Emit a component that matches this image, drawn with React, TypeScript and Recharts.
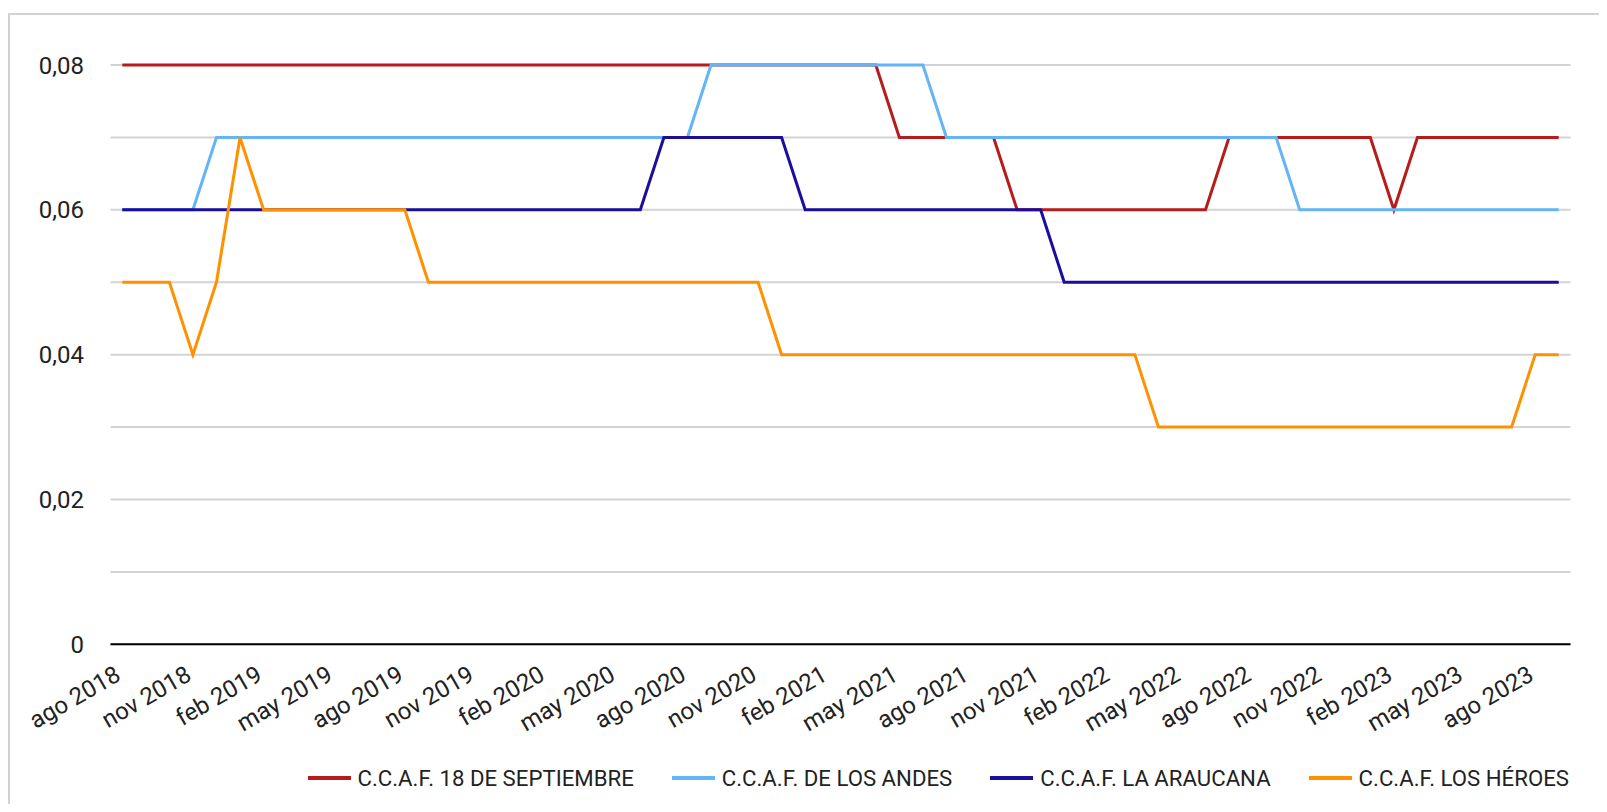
import { CartesianGrid, Line, LineChart, XAxis, YAxis } from 'recharts';

const months = [
  'ago 2018', 'sep 2018', 'oct 2018', 'nov 2018', 'dic 2018', 'ene 2019', 'feb 2019', 'mar 2019', 'abr 2019', 'may 2019', 'jun 2019', 'jul 2019',
  'ago 2019', 'sep 2019', 'oct 2019', 'nov 2019', 'dic 2019', 'ene 2020', 'feb 2020', 'mar 2020', 'abr 2020', 'may 2020', 'jun 2020', 'jul 2020',
  'ago 2020', 'sep 2020', 'oct 2020', 'nov 2020', 'dic 2020', 'ene 2021', 'feb 2021', 'mar 2021', 'abr 2021', 'may 2021', 'jun 2021', 'jul 2021',
  'ago 2021', 'sep 2021', 'oct 2021', 'nov 2021', 'dic 2021', 'ene 2022', 'feb 2022', 'mar 2022', 'abr 2022', 'may 2022', 'jun 2022', 'jul 2022',
  'ago 2022', 'sep 2022', 'oct 2022', 'nov 2022', 'dic 2022', 'ene 2023', 'feb 2023', 'mar 2023', 'abr 2023', 'may 2023', 'jun 2023', 'jul 2023',
  'ago 2023', 'sep 2023',
];

const septiembre = [
  0.08, 0.08, 0.08, 0.08, 0.08, 0.08, 0.08, 0.08, 0.08, 0.08, 0.08, 0.08,
  0.08, 0.08, 0.08, 0.08, 0.08, 0.08, 0.08, 0.08, 0.08, 0.08, 0.08, 0.08,
  0.08, 0.08, 0.08, 0.08, 0.08, 0.08, 0.08, 0.08, 0.08, 0.07, 0.07, 0.07,
  0.07, 0.07, 0.06, 0.06, 0.06, 0.06, 0.06, 0.06, 0.06, 0.06, 0.06, 0.07,
  0.07, 0.07, 0.07, 0.07, 0.07, 0.07, 0.06, 0.07, 0.07, 0.07, 0.07, 0.07,
  0.07, 0.07,
];

const andes = [
  0.06, 0.06, 0.06, 0.06, 0.07, 0.07, 0.07, 0.07, 0.07, 0.07, 0.07, 0.07,
  0.07, 0.07, 0.07, 0.07, 0.07, 0.07, 0.07, 0.07, 0.07, 0.07, 0.07, 0.07,
  0.07, 0.08, 0.08, 0.08, 0.08, 0.08, 0.08, 0.08, 0.08, 0.08, 0.08, 0.07,
  0.07, 0.07, 0.07, 0.07, 0.07, 0.07, 0.07, 0.07, 0.07, 0.07, 0.07, 0.07,
  0.07, 0.07, 0.06, 0.06, 0.06, 0.06, 0.06, 0.06, 0.06, 0.06, 0.06, 0.06,
  0.06, 0.06,
];

const araucana = [
  0.06, 0.06, 0.06, 0.06, 0.06, 0.06, 0.06, 0.06, 0.06, 0.06, 0.06, 0.06,
  0.06, 0.06, 0.06, 0.06, 0.06, 0.06, 0.06, 0.06, 0.06, 0.06, 0.06, 0.07,
  0.07, 0.07, 0.07, 0.07, 0.07, 0.06, 0.06, 0.06, 0.06, 0.06, 0.06, 0.06,
  0.06, 0.06, 0.06, 0.06, 0.05, 0.05, 0.05, 0.05, 0.05, 0.05, 0.05, 0.05,
  0.05, 0.05, 0.05, 0.05, 0.05, 0.05, 0.05, 0.05, 0.05, 0.05, 0.05, 0.05,
  0.05, 0.05,
];

const heroes = [
  0.05, 0.05, 0.05, 0.04, 0.05, 0.07, 0.06, 0.06, 0.06, 0.06, 0.06, 0.06,
  0.06, 0.05, 0.05, 0.05, 0.05, 0.05, 0.05, 0.05, 0.05, 0.05, 0.05, 0.05,
  0.05, 0.05, 0.05, 0.05, 0.04, 0.04, 0.04, 0.04, 0.04, 0.04, 0.04, 0.04,
  0.04, 0.04, 0.04, 0.04, 0.04, 0.04, 0.04, 0.04, 0.03, 0.03, 0.03, 0.03,
  0.03, 0.03, 0.03, 0.03, 0.03, 0.03, 0.03, 0.03, 0.03, 0.03, 0.03, 0.03,
  0.04, 0.04,
];

const yTicks = [0, 0.01, 0.02, 0.03, 0.04, 0.05, 0.06, 0.07, 0.08];

const series = [
  { key: 'septiembre', name: 'C.C.A.F. 18 DE SEPTIEMBRE', color: '#b71c1c' },
  { key: 'andes', name: 'C.C.A.F. DE LOS ANDES', color: '#64b5f6' },
  { key: 'araucana', name: 'C.C.A.F. LA ARAUCANA', color: '#1a0f9a' },
  { key: 'heroes', name: 'C.C.A.F. LOS HÉROES', color: '#ff9100' },
];

const data = months.map((month, i) => ({
  month,
  septiembre: septiembre[i],
  andes: andes[i],
  araucana: araucana[i],
  heroes: heroes[i],
}));

const FONT = 'Roboto, sans-serif';

// SVG origin sits at (10, 15) on the page
const CHART_W = 1597;
const CHART_H = 789;
const PLOT_LEFT = 100.5;
const PLOT_RIGHT = 1560.5;
const PLOT_TOP = 50;
const PLOT_BOTTOM = 629.3;
const X_AXIS_H = 60;
const bandPad = (PLOT_RIGHT - PLOT_LEFT) / months.length / 2;

function yLabel(v: number) {
  const n = Math.round(v * 100);
  if (n % 2 !== 0) return '';
  if (n === 0) return '0';
  return v.toFixed(2).replace('.', ',');
}

function MonthTick({ x, y, payload }: { x?: number; y?: number; payload?: { value: string } }) {
  if (x == null || y == null || !payload) return null;
  return (
    <text
      x={x}
      y={y}
      textAnchor="end"
      transform={`rotate(-30, ${x}, ${y})`}
      fill="#222"
      fontSize={24}
      fontFamily={FONT}
    >
      {payload.value}
    </text>
  );
}

function Legend() {
  return (
    <div
      style={{
        position: 'absolute',
        left: 297.5,
        top: 763,
        transform: 'translateY(-50%)',
        display: 'flex',
        alignItems: 'center',
        gap: 38,
        fontFamily: FONT,
        fontSize: 22.2,
        color: '#222',
        whiteSpace: 'nowrap',
      }}
    >
      {series.map((s) => (
        <div key={s.key} style={{ display: 'flex', alignItems: 'center' }}>
          <span style={{ display: 'inline-block', width: 43, height: 4, background: s.color, marginRight: 7 }} />
          <span>{s.name}</span>
        </div>
      ))}
    </div>
  );
}

export default function App() {
  return (
    <div style={{ paddingTop: 5 }}>
      <div
        style={{
          position: 'relative',
          width: CHART_W,
          height: CHART_H,
          borderLeft: '2px solid #d2d2d2',
          borderTop: '2px solid #d2d2d2',
          background: '#fff',
        }}
      >
        <LineChart
          width={CHART_W}
          height={CHART_H}
          data={data}
          margin={{
            top: PLOT_TOP,
            right: CHART_W - PLOT_RIGHT,
            bottom: CHART_H - PLOT_BOTTOM - X_AXIS_H,
            left: 0,
          }}
        >
          <CartesianGrid stroke="#d3d3d3" strokeWidth={2} vertical={false} />
          <XAxis
            dataKey="month"
            interval={2}
            padding={{ left: bandPad, right: bandPad }}
            height={X_AXIS_H}
            tickSize={0}
            tickMargin={35}
            tickLine={false}
            axisLine={{ stroke: '#000', strokeWidth: 2 }}
            tick={<MonthTick />}
          />
          <YAxis
            domain={[0, 0.08]}
            ticks={yTicks}
            tickFormatter={yLabel}
            width={PLOT_LEFT}
            tickSize={0}
            tickMargin={26.5}
            tickLine={false}
            axisLine={false}
            tick={{ fill: '#222', fontSize: 24, fontFamily: FONT }}
          />
          {series.map((s) => (
            <Line
              key={s.key}
              type="linear"
              dataKey={s.key}
              name={s.name}
              stroke={s.color}
              strokeWidth={3}
              dot={false}
              activeDot={false}
              isAnimationActive={false}
            />
          ))}
        </LineChart>
        <Legend />
      </div>
    </div>
  );
}
